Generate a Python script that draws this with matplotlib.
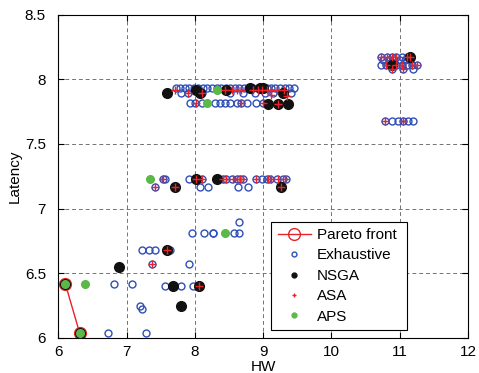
import matplotlib
matplotlib.use('Agg')
import matplotlib.pyplot as plt

plt.rcParams['font.family'] = ['Liberation Sans', 'DejaVu Sans']

# Pareto front
pareto_x = [6.10, 6.31]
pareto_y = [6.42, 6.04]

# Exhaustive search
exh_x = [6.10, 6.31, 6.72, 7.28, 6.82, 7.08, 7.20, 7.23, 7.22, 7.32, 7.41, 7.59, 7.63,
         7.37, 7.91, 7.56, 7.79, 7.97, 8.06, 7.96, 8.13, 8.26, 8.27, 8.57, 8.64, 8.65,
         # ~7.2 rows
         7.53, 7.56, 7.92, 8.02, 8.10, 8.41, 8.46, 8.54, 8.61, 8.66, 8.71, 8.90, 8.98,
         9.05, 9.10, 9.20, 9.29, 9.34,
         7.42, 8.07, 8.19, 8.63, 8.78,
         # ~7.9 rows
         7.72, 7.78, 7.85, 7.92, 7.98, 8.05, 8.12, 8.18, 8.25, 8.32, 8.38, 8.45, 8.52,
         8.58, 8.65, 8.72, 8.78, 8.85, 8.92, 8.98, 9.05, 9.12, 9.18, 9.25, 9.32, 9.38, 9.45,
         7.80, 7.90, 8.10, 8.52, 8.70, 8.88, 9.02, 9.15, 9.30, 9.40,
         7.93, 8.00, 8.10, 8.29, 8.37, 8.44, 8.51, 8.61, 8.68, 8.76, 8.90, 8.99,
         # upper right cluster
         10.73, 10.81, 10.88, 10.95, 11.03, 11.10, 11.17,
         10.76, 10.85, 10.92, 11.00, 11.08, 11.15,
         10.73, 10.80, 10.88, 10.95, 11.03, 11.10, 11.18, 11.25,
         10.88, 11.05, 11.20,
         10.78, 10.88, 10.98, 11.05, 11.12, 11.20]
exh_y = [6.42, 6.04, 6.04, 6.04, 6.42, 6.42, 6.25, 6.22, 6.68, 6.68, 6.68, 6.68, 6.68,
         6.57, 6.57, 6.40, 6.40, 6.40, 6.40, 6.81, 6.81, 6.81, 6.81, 6.81, 6.81, 6.90,
         7.23, 7.23, 7.23, 7.23, 7.23, 7.23, 7.23, 7.23, 7.23, 7.23, 7.23, 7.23, 7.23,
         7.23, 7.23, 7.23, 7.23, 7.23,
         7.17, 7.17, 7.17, 7.17, 7.17,
         7.93, 7.93, 7.93, 7.93, 7.93, 7.93, 7.93, 7.93, 7.93, 7.93, 7.93, 7.93, 7.93,
         7.93, 7.93, 7.93, 7.93, 7.93, 7.93, 7.93, 7.93, 7.93, 7.93, 7.93, 7.93, 7.93, 7.93,
         7.89, 7.89, 7.89, 7.89, 7.89, 7.89, 7.89, 7.89, 7.89, 7.89,
         7.82, 7.82, 7.82, 7.82, 7.82, 7.82, 7.82, 7.82, 7.82, 7.82, 7.82, 7.82,
         8.17, 8.17, 8.17, 8.17, 8.17, 8.17, 8.17,
         8.15, 8.15, 8.15, 8.15, 8.15, 8.15,
         8.11, 8.11, 8.11, 8.11, 8.11, 8.11, 8.11, 8.11,
         8.08, 8.08, 8.08,
         7.68, 7.68, 7.68, 7.68, 7.68, 7.68]

# NSGA
nsga_x = [6.10, 6.31, 6.88, 7.59, 7.68, 8.06, 7.80, 7.71, 8.02, 8.32, 9.26,
          7.59, 8.02, 8.07, 8.46, 8.80, 8.95, 9.00, 9.29, 9.07, 9.22, 9.37,
          11.15, 10.88]
nsga_y = [6.42, 6.04, 6.55, 6.68, 6.40, 6.40, 6.25, 7.17, 7.23, 7.23, 7.17,
          7.89, 7.92, 7.89, 7.92, 7.93, 7.93, 7.93, 7.89, 7.81, 7.81, 7.81,
          8.175, 8.11]

# ASA
asa_x = [7.59, 7.37, 8.06,
         7.42, 7.53, 7.71, 8.02, 8.10, 8.41, 8.46, 8.56, 8.61, 8.66, 8.71, 8.90,
         9.07, 9.12, 9.22, 9.32, 9.26,
         7.71, 7.90, 8.10, 8.01, 8.44, 8.54, 8.61, 8.68, 8.68, 8.85, 8.92, 8.98,
         9.05, 9.12, 9.20, 9.30, 8.99, 9.22, 9.12, 9.35,
         10.73, 10.81, 10.88, 10.95, 11.10, 11.15, 10.80, 10.95, 11.03, 11.18,
         11.25, 10.88, 11.05, 10.78, 11.05]
asa_y = [6.68, 6.57, 6.40,
         7.17, 7.23, 7.17, 7.23, 7.23, 7.23, 7.23, 7.23, 7.23, 7.23, 7.23, 7.23,
         7.23, 7.23, 7.23, 7.23, 7.17,
         7.92, 7.89, 7.89, 7.82, 7.92, 7.92, 7.92, 7.92, 7.82, 7.92, 7.92, 7.92,
         7.92, 7.92, 7.92, 7.92, 7.82, 7.81, 7.88, 7.87,
         8.17, 8.17, 8.17, 8.17, 8.17, 8.17, 8.11, 8.11, 8.11, 8.11,
         8.11, 8.08, 8.08, 7.68, 7.68]

# APS
aps_x = [6.10, 6.31, 6.39, 8.44, 7.34, 8.33, 8.17]
aps_y = [6.42, 6.04, 6.42, 6.81, 7.23, 7.92, 7.82]

xticks = [6, 7, 8, 9, 10, 11, 12]
yticks = [6, 6.5, 7, 7.5, 8, 8.5]

fig = plt.figure(figsize=(4.79, 3.73), dpi=100)
ax = fig.add_axes([0.122, 0.094, 0.855, 0.867])

ax.plot(pareto_x, pareto_y, color='#e8232a', lw=1.0, marker='o', ms=8.5,
        mfc='none', mec='#e8232a', mew=1.0, label='Pareto front', zorder=2)
ax.plot(exh_x, exh_y, ls='none', marker='o', ms=5, mfc='none', mec='#2f4fb8',
        mew=1.0, label='Exhaustive', zorder=3)
ax.plot(nsga_x, nsga_y, ls='none', marker='o', ms=7, color='#111111',
        label='NSGA', zorder=4)
ax.plot(asa_x, asa_y, ls='none', marker='+', ms=5.5, mew=1.0, color='#e8232a',
        label='ASA', zorder=5)
ax.plot(aps_x, aps_y, ls='none', marker='o', ms=5.5, color='#5cb847',
        label='APS', zorder=6)

ax.set_xlim(6, 12)
ax.set_ylim(6, 8.5)
ax.set_xticks(xticks)
ax.set_yticks(yticks)
ax.set_xticklabels([str(v) for v in xticks])
ax.set_yticklabels(['6', '6.5', '7', '7.5', '8', '8.5'])
ax.tick_params(direction='in', length=4, labelsize=11, top=True, right=True)
ax.tick_params(axis='y', pad=9)
ax.tick_params(axis='x', pad=5)
ax.grid(True, color='0.45', ls=(0, (4, 3)), lw=0.7)
ax.set_axisbelow(True)
for s in ax.spines.values():
    s.set_linewidth(0.8)

ax.set_xlabel('HW', fontsize=11, labelpad=1)
ax.set_ylabel('Latency', fontsize=11, labelpad=2)

leg = ax.legend(loc='lower left', bbox_to_anchor=(0.52, 0.025, 0.33, 0.35),
                mode='expand', fontsize=11, fancybox=False, framealpha=1,
                edgecolor='black', borderpad=0.4, labelspacing=0.42,
                handlelength=2.2, handletextpad=0.4, borderaxespad=0)
leg.get_frame().set_linewidth(0.8)
for h in leg.legend_handles[1:]:
    h.set_markersize(3.5)

fig.savefig('out.png', dpi=100)
